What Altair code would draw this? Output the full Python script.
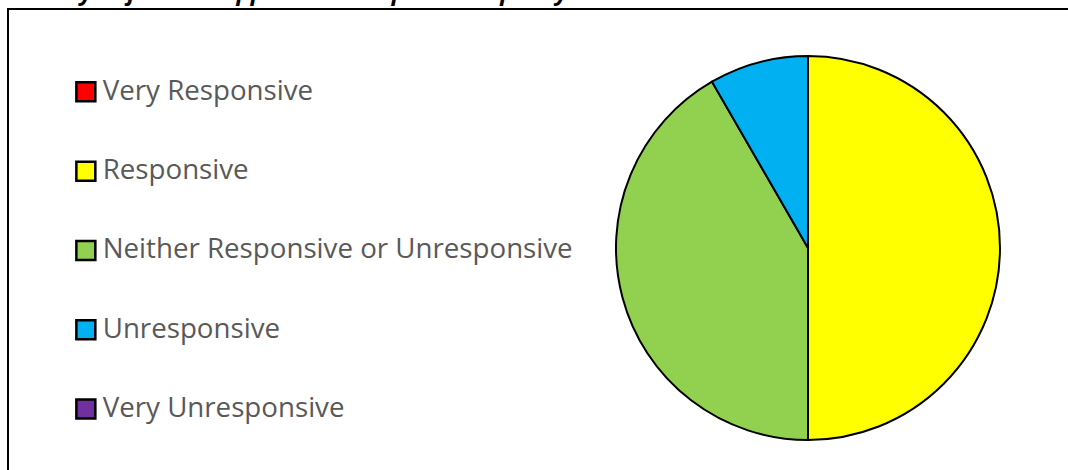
import altair as alt
import pandas as pd

categories = ["Very Responsive", "Responsive", "Neither Responsive or Unresponsive",
              "Unresponsive", "Very Unresponsive"]
counts = [0, 6, 5, 1, 0]
colors = ["#FF0000", "#FFFF00", "#92D050", "#00B0F0", "#7030A0"]
caption = "Question 14 \u2013 How would you find the application responsive/speedy?"

df = pd.DataFrame({"category": categories, "count": counts, "order": list(range(len(categories)))})

pie = alt.Chart(df).mark_arc(outerRadius=192, stroke="black", strokeWidth=2).encode(
    theta=alt.Theta("count:Q", stack=True),
    order=alt.Order("order:Q"),
    color=alt.Color(
        "category:N",
        scale=alt.Scale(domain=categories, range=colors),
        legend=alt.Legend(
            title=None, orient="none", legendX=72, legendY=78,
            symbolType="square", symbolSize=360, symbolStrokeColor="black",
            symbolStrokeWidth=2.5, symbolOpacity=1,
            labelFont="Open Sans", labelFontSize=27.7, labelColor="#595959",
            rowPadding=49.3, labelOffset=3, labelLimit=0,
        ),
    ),
    x=alt.value(808),
    y=alt.value(248),
)

border = alt.Chart(pd.DataFrame({"a": [0]})).mark_rect(
    fill=None, stroke="black", strokeWidth=2
).encode(x=alt.value(8), x2=alt.value(1090), y=alt.value(9), y2=alt.value(490))

cap = alt.Chart(pd.DataFrame({"t": [caption]})).mark_text(
    align="left", baseline="alphabetic", font="Open Sans", fontSize=24,
    fontStyle="italic", fontWeight="bold", color="black"
).encode(text="t:N", x=alt.value(-210), y=alt.value(0))

chart = alt.layer(border, pie, cap).properties(
    width=1068, height=470, autosize=alt.AutoSizeParams(type="none"), padding=0,
    background="white"
).configure_view(stroke=None)

chart.save("out.html", embed_options={"renderer": "svg", "actions": False})
